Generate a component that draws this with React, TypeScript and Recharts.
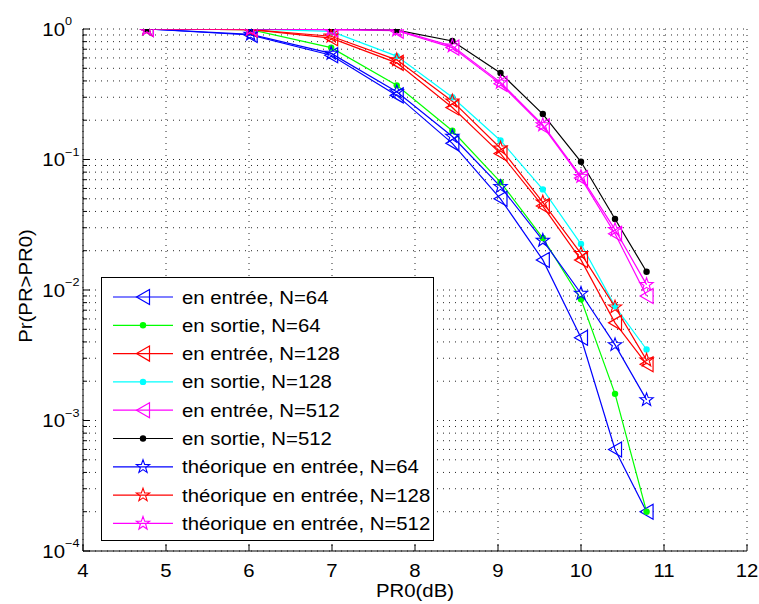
import { LineChart, Line, XAxis, YAxis, CartesianGrid, Legend } from "recharts";

// PR0 in dB: 10*log10(3..12)
const PR0 = [4.77, 6.02, 6.99, 7.78, 8.45, 9.03, 9.54, 10, 10.41, 10.79];

const ENTREE_64 = [1, 0.9, 0.63, 0.31, 0.133, 0.05, 0.017, 0.0043, 0.0006, 0.0002];
const SORTIE_64 = [1, 0.99, 0.72, 0.37, 0.166, 0.067, 0.025, 0.0085, 0.0016, 0.0002];
const ENTREE_128 = [1, 0.99, 0.85, 0.55, 0.25, 0.111, 0.044, 0.017, 0.0056, 0.0027];
const SORTIE_128 = [1, 1, 0.96, 0.62, 0.3, 0.14, 0.059, 0.0225, 0.0075, 0.0035];
const ENTREE_512 = [1, 1, 0.99, 0.97, 0.72, 0.38, 0.18, 0.072, 0.027, 0.009];
const SORTIE_512 = [1, 1, 1, 0.98, 0.81, 0.46, 0.223, 0.096, 0.035, 0.0138];
const THEO_64 = [1, 0.91, 0.65, 0.33, 0.15, 0.062, 0.024, 0.0094, 0.0038, 0.00144];
const THEO_128 = [1, 0.99, 0.88, 0.58, 0.28, 0.122, 0.047, 0.019, 0.0074, 0.0029];
const THEO_512 = [1, 1, 0.99, 0.98, 0.74, 0.39, 0.184, 0.074, 0.029, 0.011];

const X_TICKS = [4, 5, 6, 7, 8, 9, 10, 11, 12];
const Y_DECADES = [1e-4, 1e-3, 1e-2, 1e-1];
const Y_TICKS = [...Y_DECADES.flatMap((d) => [1, 2, 3, 4, 5, 6, 7, 8, 9].map((m) => m * d)), 1];

const FONT = "'Liberation Sans', Arial, Helvetica, sans-serif";
const FS = 18.5;
const SX = 1.1; // matlab's helvetica renders a bit wider than arial

type Mark = "tri" | "dot" | "star";

const SERIES: { key: string; name: string; color: string; mark: Mark; values: number[] }[] = [
  { key: "e64", name: "en entrée, N=64", color: "#0000ff", mark: "tri", values: ENTREE_64 },
  { key: "s64", name: "en sortie, N=64", color: "#00ff00", mark: "dot", values: SORTIE_64 },
  { key: "e128", name: "en entrée, N=128", color: "#ff0000", mark: "tri", values: ENTREE_128 },
  { key: "s128", name: "en sortie, N=128", color: "#00ffff", mark: "dot", values: SORTIE_128 },
  { key: "e512", name: "en entrée, N=512", color: "#ff00ff", mark: "tri", values: ENTREE_512 },
  { key: "s512", name: "en sortie, N=512", color: "#000000", mark: "dot", values: SORTIE_512 },
  { key: "t64", name: "théorique en entrée, N=64", color: "#0000ff", mark: "star", values: THEO_64 },
  { key: "t128", name: "théorique en entrée, N=128", color: "#ff0000", mark: "star", values: THEO_128 },
  { key: "t512", name: "théorique en entrée, N=512", color: "#ff00ff", mark: "star", values: THEO_512 },
];

const rows = PR0.map((x, i) => {
  const r: Record<string, number> = { x };
  SERIES.forEach((s) => (r[s.key] = s.values[i]));
  return r;
});

function Marker({ cx, cy, color, mark }: { cx: number; cy: number; color: string; mark: Mark }) {
  if (mark === "dot") return <circle cx={cx} cy={cy} r={3.2} fill={color} stroke="none" />;
  if (mark === "tri") {
    const pts = `${cx - 6.5},${cy} ${cx + 6.5},${cy - 7.5} ${cx + 6.5},${cy + 7.5}`;
    return <polygon points={pts} fill="none" stroke={color} strokeWidth={1.2} />;
  }
  const pts: string[] = [];
  for (let k = 0; k < 10; k++) {
    const a = -Math.PI / 2 + (k * Math.PI) / 5;
    const rad = k % 2 === 0 ? 7 : 2.8;
    pts.push(`${cx + rad * Math.cos(a)},${cy + rad * Math.sin(a)}`);
  }
  return <polygon points={pts.join(" ")} fill="none" stroke={color} strokeWidth={1.1} />;
}

const isMajor = (v: number) => Math.abs(Math.log10(v) - Math.round(Math.log10(v))) < 1e-9;

function LeftTick({ x, y, payload }: any) {
  const v = payload.value;
  const major = isMajor(v);
  const exp = Math.round(Math.log10(v));
  return (
    <g>
      <line x1={x} y1={y} x2={x + (major ? 7 : 4)} y2={y} stroke="#000" />
      {major && (
        <>
          <text transform={`translate(${x - 18},${y + 6.5}) scale(${SX},1)`} textAnchor="end" fontSize={FS} fill="#000" fontFamily={FONT}>
            10
          </text>
          <text transform={`translate(${x - 18},${y - 4}) scale(${SX},1)`} fontSize={11.5} fill="#000" fontFamily={FONT}>
            {exp < 0 ? `\u2212${-exp}` : `${exp}`}
          </text>
        </>
      )}
    </g>
  );
}

function RightTick({ x, y, payload }: any) {
  const major = isMajor(payload.value);
  return <line x1={x} y1={y} x2={x - (major ? 7 : 4)} y2={y} stroke="#000" />;
}

function BottomTick({ x, y, payload }: any) {
  return (
    <g>
      <line x1={x} y1={y} x2={x} y2={y - 7} stroke="#000" />
      <text transform={`translate(${x},${y + 25.5}) scale(${SX},1)`} textAnchor="middle" fontSize={FS} fill="#000" fontFamily={FONT}>
        {payload.value}
      </text>
    </g>
  );
}

function TopTick({ x, y }: any) {
  return <line x1={x} y1={y} x2={x} y2={y + 7} stroke="#000" />;
}

function XLabel({ viewBox }: any) {
  const cx = viewBox.x + viewBox.width / 2;
  return (
    <text transform={`translate(${cx},${viewBox.y + 46}) scale(${SX},1)`} textAnchor="middle" fontSize={FS} fill="#000" fontFamily={FONT}>
      PR0(dB)
    </text>
  );
}

function YLabel({ viewBox }: any) {
  const cy = viewBox.y + viewBox.height / 2 - 4;
  return (
    <text transform={`translate(32,${cy}) rotate(-90) scale(${SX},1)`} textAnchor="middle" fontSize={FS} fill="#000" fontFamily={FONT}>
      Pr(PR&gt;PR0)
    </text>
  );
}

function LegendBox() {
  return (
    <div style={{ width: 333, height: 264, border: "1px solid #000", background: "#fff", boxSizing: "border-box" }}>
      <svg width={331} height={262} style={{ display: "block" }}>
        {SERIES.map((s, i) => {
          const y = 19 + i * 28.3;
          return (
            <g key={s.key}>
              <line x1={11} y1={y} x2={71} y2={y} stroke={s.color} strokeWidth={1.2} />
              <Marker cx={41} cy={y} color={s.color} mark={s.mark} />
              <text transform={`translate(80,${y + 6.5}) scale(${SX},1)`} fontSize={FS} fill="#000" fontFamily={FONT}>
                {s.name}
              </text>
            </g>
          );
        })}
      </svg>
    </div>
  );
}

export default function App() {
  return (
    <div style={{ position: "absolute", left: 0, top: 0 }}>
      <LineChart width={759} height={604} data={rows} margin={{ top: 29, right: 12, bottom: 5, left: 0 }}>
        <CartesianGrid stroke="#000" strokeDasharray="1 5" strokeWidth={1} strokeOpacity={0.85} />
        <XAxis
          dataKey="x"
          type="number"
          domain={[4, 12]}
          ticks={X_TICKS}
          interval={0}
          height={48}
          tickSize={0}
          tickMargin={0}
          tickLine={false}
          axisLine={{ stroke: "#000" }}
          tick={<BottomTick />}
          allowDataOverflow
          label={<XLabel />}
        />
        <XAxis
          xAxisId="top"
          orientation="top"
          type="number"
          domain={[4, 12]}
          ticks={X_TICKS}
          interval={0}
          height={0}
          tickSize={0}
          tickMargin={0}
          tickLine={false}
          axisLine={{ stroke: "#000" }}
          tick={<TopTick />}
          allowDataOverflow
        />
        <YAxis
          type="number"
          scale="log"
          domain={[1e-4, 1]}
          ticks={Y_TICKS}
          interval={0}
          width={83}
          tickSize={0}
          tickMargin={0}
          tickLine={false}
          axisLine={{ stroke: "#000" }}
          tick={<LeftTick />}
          allowDataOverflow
          label={<YLabel />}
        />
        <YAxis
          yAxisId="right"
          orientation="right"
          type="number"
          scale="log"
          domain={[1e-4, 1]}
          ticks={Y_TICKS}
          interval={0}
          width={0}
          tickSize={0}
          tickMargin={0}
          tickLine={false}
          axisLine={{ stroke: "#000" }}
          tick={<RightTick />}
          allowDataOverflow
        />
        <Legend
          layout="vertical"
          align="center"
          verticalAlign="middle"
          content={<LegendBox />}
          wrapperStyle={{ left: 101, top: 277, width: 333, height: 264 }}
        />
        {SERIES.map((s) => (
          <Line
            key={s.key}
            dataKey={s.key}
            name={s.name}
            type="linear"
            stroke={s.color}
            strokeWidth={1.2}
            isAnimationActive={false}
            activeDot={false}
            dot={(p: any) => <Marker key={`${s.key}-${p.index}`} cx={p.cx} cy={p.cy} color={s.color} mark={s.mark} />}
          />
        ))}
      </LineChart>
    </div>
  );
}
